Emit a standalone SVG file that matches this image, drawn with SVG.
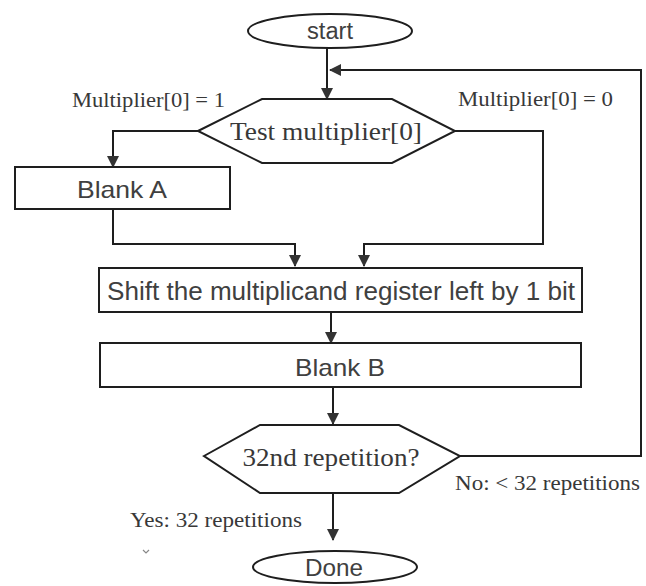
<svg xmlns="http://www.w3.org/2000/svg" width="646" height="586" viewBox="0 0 646 586">
  <style>
    .shape { fill: #ffffff; stroke: #1e1e1e; stroke-width: 2; }
    .wire { fill: none; stroke: #1e1e1e; stroke-width: 2; }
    .serif { font-family: "Liberation Serif", "Times New Roman", serif; fill: #383838; }
    .sans { font-family: "Liberation Sans", Arial, sans-serif; fill: #404040; }
  </style>
  <defs>
    <marker id="arrow" viewBox="0 0 12 12" refX="11" refY="6" markerWidth="12" markerHeight="12" markerUnits="userSpaceOnUse" orient="auto">
      <path d="M0,0 L12,6 L0,12 Z" fill="#333333"/>
    </marker>
  </defs>
  <rect width="646" height="586" fill="#ffffff"/>

  <g id="connectors">
    <!-- start to test -->
    <path class="wire" d="M327,48 L327,99" marker-end="url(#arrow)"/>
    <!-- loop back from repetition test -->
    <path class="wire" d="M460,456 L641,456 L641,70 L330,70" marker-end="url(#arrow)"/>
    <!-- multiplier[0] = 1 branch -->
    <path class="wire" d="M198,131 L113,131 L113,167" marker-end="url(#arrow)"/>
    <!-- multiplier[0] = 0 branch -->
    <path class="wire" d="M455,131 L543,131 L543,244 L364,244 L364,266" marker-end="url(#arrow)"/>
    <!-- Blank A to shift -->
    <path class="wire" d="M113,209 L113,244 L295,244 L295,266" marker-end="url(#arrow)"/>
    <!-- shift to Blank B -->
    <path class="wire" d="M331,312 L331,343" marker-end="url(#arrow)"/>
    <!-- Blank B to repetition test -->
    <path class="wire" d="M333,387 L333,424" marker-end="url(#arrow)"/>
    <!-- repetition test to done -->
    <path class="wire" d="M333,493 L333,540" marker-end="url(#arrow)"/>
  </g>

  <g id="start">
    <ellipse class="shape" cx="330" cy="31" rx="82" ry="17"/>
    <text class="sans" x="330" y="39" font-size="23" text-anchor="middle" textLength="46" lengthAdjust="spacingAndGlyphs">start</text>
  </g>

  <g id="test-multiplier">
    <polygon class="shape" points="198,131 262,99 392,99 455,131 392,163 262,163"/>
    <text class="serif" x="326" y="140" font-size="26" text-anchor="middle" textLength="192" lengthAdjust="spacingAndGlyphs">Test multiplier[0]</text>
  </g>

  <g id="label-one">
    <text class="serif" x="72" y="107" font-size="20" textLength="153" lengthAdjust="spacingAndGlyphs">Multiplier[0] = 1</text>
  </g>
  <g id="label-zero">
    <text class="serif" x="458" y="106" font-size="20" textLength="155" lengthAdjust="spacingAndGlyphs">Multiplier[0] = 0</text>
  </g>

  <g id="blank-a">
    <rect class="shape" x="15" y="167" width="215" height="42"/>
    <text class="sans" x="122" y="198" font-size="24" text-anchor="middle" textLength="90" lengthAdjust="spacingAndGlyphs">Blank A</text>
  </g>

  <g id="shift">
    <rect class="shape" x="99" y="268" width="483" height="44"/>
    <text class="sans" x="341" y="300" font-size="25" text-anchor="middle" textLength="468" lengthAdjust="spacingAndGlyphs">Shift the multiplicand register left by 1 bit</text>
  </g>

  <g id="blank-b">
    <rect class="shape" x="100" y="343" width="481" height="44"/>
    <text class="sans" x="340" y="376" font-size="24" text-anchor="middle" textLength="90" lengthAdjust="spacingAndGlyphs">Blank B</text>
  </g>

  <g id="repetition-test">
    <polygon class="shape" points="204,456 260,425 399,425 460,456 399,493 260,493"/>
    <text class="serif" x="331" y="466" font-size="26" text-anchor="middle" textLength="177" lengthAdjust="spacingAndGlyphs">32nd repetition?</text>
  </g>

  <g id="label-no">
    <text class="serif" x="455" y="490" font-size="20" textLength="185" lengthAdjust="spacingAndGlyphs">No: &lt; 32 repetitions</text>
  </g>
  <g id="label-yes">
    <text class="serif" x="130" y="527" font-size="20" textLength="172" lengthAdjust="spacingAndGlyphs">Yes: 32 repetitions</text>
  </g>

  <g id="done">
    <ellipse class="shape" cx="335" cy="567" rx="82" ry="16"/>
    <text class="sans" x="334" y="576" font-size="24" text-anchor="middle" textLength="58" lengthAdjust="spacingAndGlyphs">Done</text>
  </g>

  <!-- small stray tick -->
  <path d="M143,550 L146,553 L149,550" fill="none" stroke="#888888" stroke-width="1.2"/>
</svg>
